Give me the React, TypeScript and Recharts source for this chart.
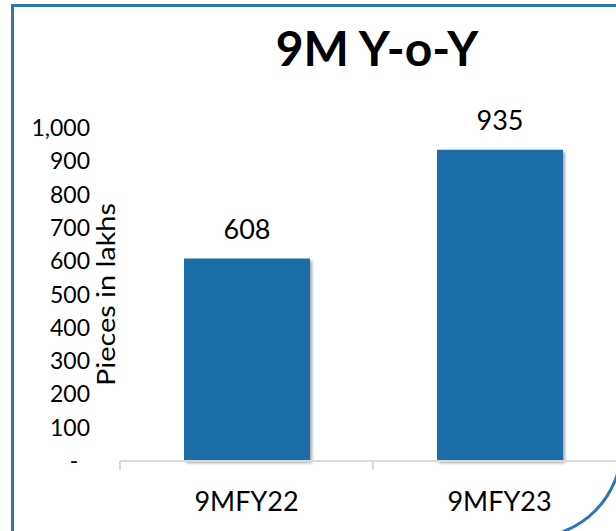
import React from "react";
import { BarChart, Bar, XAxis, YAxis, LabelList, Label, Rectangle } from "recharts";

const categories = ["9MFY22", "9MFY23"];
const pieces = [608, 935];
const yTicks = [0, 100, 200, 300, 400, 500, 600, 700, 800, 900, 1000];
const title = "9M Y-o-Y";
const yTitle = "Pieces in lakhs";

const data = categories.map((name, i) => ({ name, value: pieces[i] }));

const FONT = "Lato, 'Open Sans', sans-serif";
const BLUE = "#1f6ea9";
const AXIS = "#d9d9d9";

const YTick = (props: any) => {
  const { x, y, payload } = props;
  const v = payload.value;
  return (
    <text x={x} y={y} dy="0.35em" textAnchor={v === 0 ? "middle" : "end"} dx={v === 0 ? -16 : 0}
      fontSize={23} fill="#000" fontFamily={FONT}>
      {v === 0 ? "-" : v.toLocaleString("en-US")}
    </text>
  );
};

const XTick = (props: any) => {
  const { x, y, payload } = props;
  const off = payload.offset ?? 0;
  return (
    <g>
      <line x1={x - off} x2={x - off} y1={y - 9} y2={y} stroke={AXIS} strokeWidth={2} />
      <line x1={x + off} x2={x + off} y1={y - 9} y2={y} stroke={AXIS} strokeWidth={2} />
      <text x={x} y={y} dy={41} textAnchor="middle" fontSize={27} fill="#000" fontFamily={FONT}>
        {payload.value}
      </text>
    </g>
  );
};

const ShadowBar = (props: any) => <Rectangle {...props} filter="url(#barShadow)" />;

export default function App() {
  return (
    <div style={{ position: "absolute", left: 0, top: 0, width: 616, height: 531, overflow: "hidden", background: "#fff" }}>
      <div style={{ position: "absolute", left: 11, top: 4, width: 612, height: 535, border: "3px solid #2e75b6",
        borderRadius: "0 0 92px 0", boxSizing: "border-box" }} />
      <div style={{ position: "absolute", left: 177, width: 400, top: 18, textAlign: "center", fontFamily: FONT,
        fontWeight: "bold", fontSize: 48, lineHeight: "60px", color: "#000" }}>
        {title}
      </div>
      <div style={{ position: "absolute", left: 0, top: 0 }}>
        <BarChart width={626} height={531} data={data} margin={{ top: 128, right: 0, left: 0, bottom: 0 }}>
          <defs>
            <filter id="barShadow" x="-10%" y="-10%" width="130%" height="130%">
              <feDropShadow dx="2" dy="2" stdDeviation="1.5" floodColor="#000" floodOpacity="0.35" />
            </filter>
          </defs>
          <XAxis dataKey="name" height={70} axisLine={{ stroke: AXIS, strokeWidth: 2 }} tickLine={false}
            tickSize={9} tickMargin={0} tick={<XTick />} interval={0} />
          <YAxis width={120} domain={[0, 1000]} ticks={yTicks} axisLine={false} tickLine={false}
            tickSize={6} tickMargin={24} tick={<YTick />} interval={0}>
            <Label content={(p: any) => {
              const vb = p.viewBox;
              const cx = vb.x + 105;
              const cy = vb.y + vb.height / 2;
              return (
                <text x={cx} y={cy} transform={`rotate(-90, ${cx}, ${cy})`} textAnchor="middle" dominantBaseline="central"
                  fontSize={25} fontFamily={FONT} fill="#000" textLength={183} lengthAdjust="spacingAndGlyphs">
                  {yTitle}
                </text>
              );
            }} />
          </YAxis>
          <Bar dataKey="value" fill={BLUE} barSize={126} isAnimationActive={false} shape={<ShadowBar />}>
            <LabelList dataKey="value" position="top" offset={20} fontSize={27} fill="#000" fontFamily={FONT} />
          </Bar>
        </BarChart>
      </div>
    </div>
  );
}
